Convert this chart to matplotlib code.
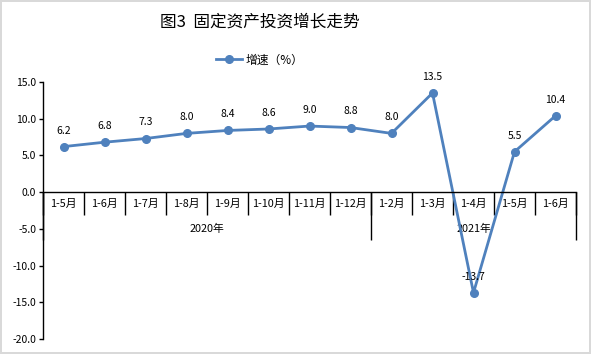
import matplotlib
matplotlib.use("Agg")
import matplotlib.pyplot as plt
import numpy as np

plt.rcParams['font.family'] = ['Noto Sans CJK SC', 'DejaVu Sans']

# data
months = ["1-5月", "1-6月", "1-7月", "1-8月", "1-9月", "1-10月", "1-11月", "1-12月",
          "1-2月", "1-3月", "1-4月", "1-5月", "1-6月"]
growth = [6.2, 6.8, 7.3, 8.0, 8.4, 8.6, 9.0, 8.8, 8.0, 13.5, -13.7, 5.5, 10.4]
years = ["2020年", "2021年"]
year_sizes = [8, 5]

blue = "#4F81BD"

fig = plt.figure(figsize=(5.91, 3.54), dpi=100)
fig.patch.set_edgecolor("#d9d9d9")
fig.patch.set_linewidth(1.5)
ax = fig.add_axes([43/591, 1-339/354, (576-43)/591, (339-82)/354])

x = np.arange(len(months))
ax.plot(x, growth, color=blue, lw=2.0, marker="o", ms=5.5, label="增速（%）")
for xi, v in zip(x, growth):
    ax.annotate(f"{v:.1f}", (xi, v), xytext=(0, 8), textcoords="offset points",
                ha="center", va="bottom", fontsize=7.5)

ax.set_xlim(-0.5, len(months) - 0.5)
ax.set_ylim(-20, 15)
ax.set_yticks(np.arange(-20, 16, 5))
ax.set_yticklabels([f"{t:.1f}" for t in np.arange(-20, 16, 5)], fontsize=7.5)
ax.tick_params(axis="y", direction="out", length=3, width=1, pad=2)

for s in ["top", "right"]:
    ax.spines[s].set_visible(False)
ax.spines["bottom"].set_position(("data", 0))
ax.spines["left"].set_linewidth(1)
ax.spines["bottom"].set_linewidth(1)

# category ticks on the zero line
ax.set_xticks(np.arange(-0.5, len(months)), minor=False)
ax.set_xticklabels([])
ax.set_xticks(x, minor=True)
ax.set_xticklabels(months, minor=True, fontsize=7.8)
ax.tick_params(axis="x", which="major", direction="out", length=16.5, width=1)
ax.tick_params(axis="x", which="minor", length=0, pad=5)

# year groups
bounds = np.concatenate([[0], np.cumsum(year_sizes)]) - 0.5
centers = (bounds[:-1] + bounds[1:]) / 2
sec = ax.secondary_xaxis(20/35)
sec.xaxis.set_ticks_position("bottom")
for s in sec.spines.values():
    s.set_visible(False)
sec.set_xticks(bounds)
sec.set_xticklabels([])
sec.set_xticks(centers, minor=True)
sec.set_xticklabels(years, minor=True, fontsize=7.8)
sec.tick_params(axis="x", which="major", direction="out", length=34.5, width=1)
sec.tick_params(axis="x", which="minor", length=0, pad=23)

fig.text(260/591, 1 - 22/354, "图3  固定资产投资增长走势", ha="center", va="center", fontsize=12)
fig.legend(loc="center", bbox_to_anchor=(260/591, 1 - 60/354), frameon=False,
           fontsize=8.5, handlelength=2.2, handletextpad=0.3)

fig.savefig("out.png", dpi=100)
